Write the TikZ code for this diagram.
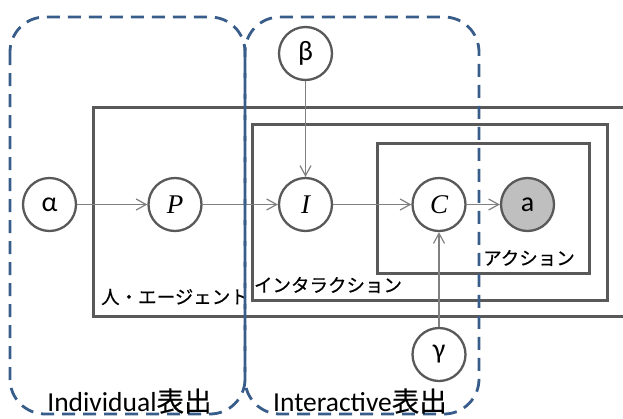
\documentclass[tikz,border=0pt]{standalone}
\usepackage{fontspec}
\setmainfont{Carlito}
\newfontfamily\jp{Noto Sans CJK JP}[FakeBold=0.4]
\newfontfamily\mvar{Liberation Serif}
\usetikzlibrary{arrows.meta}
\definecolor{boxgray}{RGB}{89,89,89}
\definecolor{arrgray}{RGB}{128,128,128}
\definecolor{dashblue}{RGB}{56,93,138}
\begin{document}
\begin{tikzpicture}[x=1pt,y=-1pt,
  var/.style={circle,draw=boxgray,line width=2.3pt,fill=white,minimum size=53pt,inner sep=0pt,font=\fontsize{28}{30}\selectfont},
  mv/.style={var,font=\mvar\itshape\fontsize{27}{29}\selectfont},
  obs/.style={var,fill=black!25},
  plate/.style={draw=boxgray,line width=3pt},
  conn/.style={draw=arrgray,line width=1.2pt,-{Straight Barb[length=10pt,width=11pt]}},
  group/.style={draw=dashblue,line width=2.8pt,dash pattern=on 13pt off 8pt,rounded corners=35pt},
  lbl/.style={font=\jp\fontsize{18.5}{20}\selectfont,inner sep=0pt},
  glbl/.style={font=\fontsize{27.5}{29}\selectfont,inner sep=0pt}]
\useasboundingbox (0,0) rectangle (623,418);
\clip (0,0) rectangle (623,418);
% plates
\draw[plate] (93,107) rectangle (640,316);
\draw[plate] (252,124) rectangle (607,300);
\draw[plate] (377,143) rectangle (589,273);
% nodes
\node[var] (alpha) at (49.5,204.5) {α};
\node[mv] (P) at (175,204.5) {P};
\node[mv] (I) at (305.5,204.5) {I};
\node[mv] (C) at (439,204.5) {C};
\node[obs] (a) at (527.5,204.5) {a};
\node[var] (beta) at (305.5,53.5) {β};
\node[var] (gamma) at (439,354.5) {γ};
% connectors
\draw[conn] (alpha) -- (P);
\draw[conn] (P) -- (I);
\draw[conn] (I) -- (C);
\draw[conn] (C) -- (a);
\draw[conn] (beta) -- (I);
\draw[conn] (gamma) -- (C);
% plate labels
\node[lbl] (l1) at (175,297) {人・エージェント};
\node[lbl] (l2) at (328,285) {インタラクション};
\node[lbl] (l3) at (529,258) {アクション};
% groups
\draw[group] (10,17) rectangle (245,414);
\draw[group] (245,17) rectangle (479,414);
\node[glbl] (g1) at (129.5,401) {Individual{\jp 表出}};
\node[glbl] (g2) at (360,401) {Interactive{\jp 表出}};
\end{tikzpicture}
\end{document}
